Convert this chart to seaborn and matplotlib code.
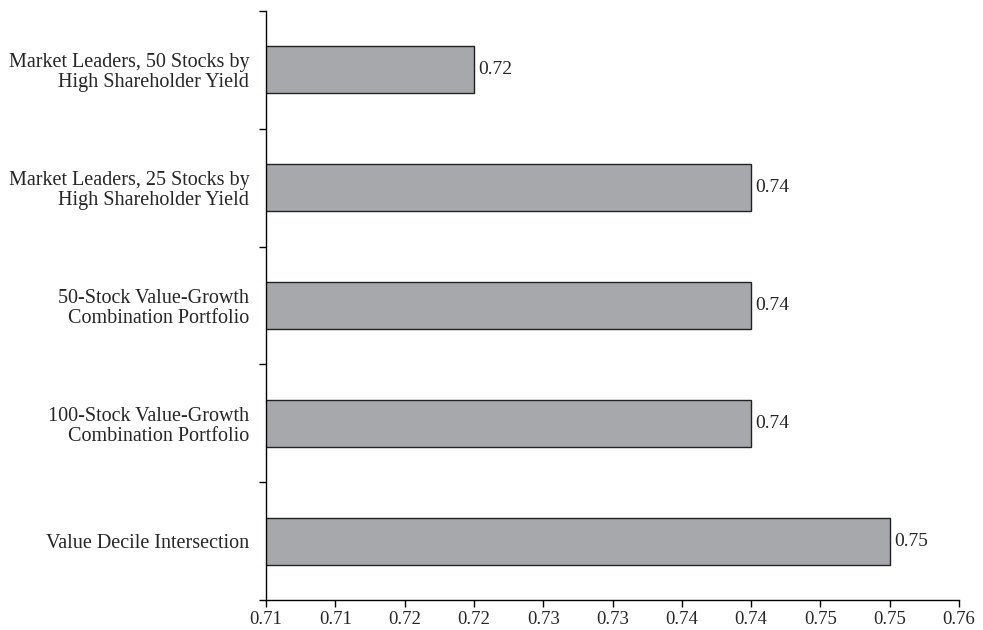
import matplotlib
matplotlib.use("Agg")
import matplotlib.pyplot as plt
import numpy as np
import pandas as pd
import seaborn as sns

# data
portfolios = [
    "Market Leaders, 50 Stocks by\nHigh Shareholder Yield",
    "Market Leaders, 25 Stocks by\nHigh Shareholder Yield",
    "50-Stock Value-Growth\nCombination Portfolio",
    "100-Stock Value-Growth\nCombination Portfolio",
    "Value Decile Intersection",
]
ratios = [0.72, 0.74, 0.74, 0.74, 0.75]
value_labels = ["0.72", "0.74", "0.74", "0.74", "0.75"]
x_ticks = [0.705, 0.71, 0.715, 0.72, 0.725, 0.73, 0.735, 0.74, 0.745, 0.75, 0.755]
x_tick_labels = ["0.71", "0.71", "0.72", "0.72", "0.73", "0.73",
                 "0.74", "0.74", "0.75", "0.75", "0.76"]

df = pd.DataFrame({"portfolio": portfolios, "ratio": ratios})

sns.set_style("white")
plt.rcParams["font.family"] = ["Liberation Serif", "DejaVu Serif"]
plt.rcParams["font.size"] = 14

fig = plt.figure(figsize=(9.83, 6.3), dpi=100)
ax = fig.add_axes([0.2706, 0.0476, 0.705, 0.9349])

sns.barplot(data=df, x="ratio", y="portfolio", orient="h", width=0.4,
            color="#a7a8ab", saturation=1, edgecolor="#222222",
            linewidth=1.0, ax=ax)

ax.set_xlim(x_ticks[0], x_ticks[-1])
ax.set_ylim(len(portfolios) - 0.5, -0.5)

ax.set_xticks(x_ticks)
ax.set_xticklabels(x_tick_labels, fontsize=13.5)

# labels centred on bars, ticks on the boundaries between them
ax.set_yticks(np.arange(len(portfolios)))
ax.set_yticklabels(portfolios, ha="right", multialignment="right",
                   fontsize=14.5, linespacing=1.05)
ax.set_yticks(np.arange(len(portfolios) + 1) - 0.5, minor=True)
ax.tick_params(axis="y", which="major", length=0, pad=12)
ax.tick_params(axis="y", which="minor", length=5, width=1, color="black",
               direction="out", left=True)
ax.tick_params(axis="x", length=5, width=1, color="black",
               direction="out", bottom=True, pad=3)

ax.bar_label(ax.containers[0], labels=value_labels, padding=3, fontsize=14)

for side in ["top", "right"]:
    ax.spines[side].set_visible(False)
for side in ["left", "bottom"]:
    ax.spines[side].set_color("black")
    ax.spines[side].set_linewidth(1)

ax.set_xlabel("")
ax.set_ylabel("")

fig.savefig("out.png", dpi=100)
